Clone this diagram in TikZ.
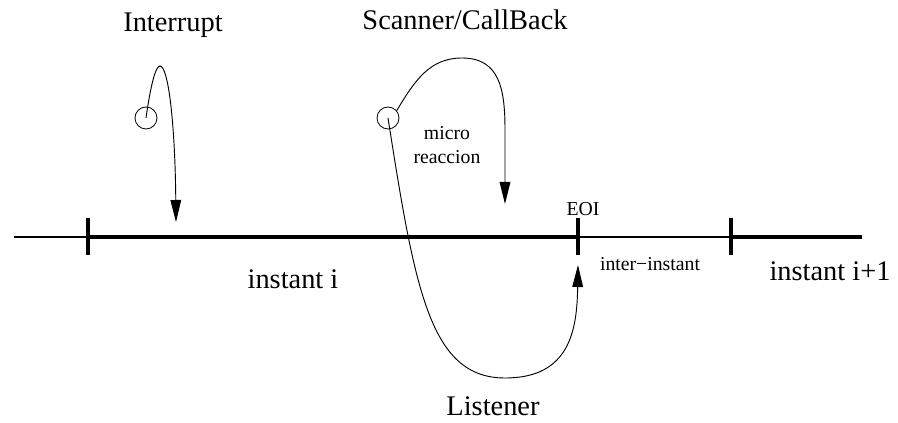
\documentclass[tikz,border=0pt]{standalone}
\usepackage{fontspec}
\setmainfont{Liberation Serif}
\usetikzlibrary{arrows.meta}
\begin{document}
\begin{tikzpicture}[x=0.75pt,y=-0.75pt,
  big/.style={font=\fontsize{21.3pt}{25pt}\selectfont, inner sep=0pt},
  small/.style={font=\fontsize{14.8pt}{17.5pt}\selectfont, inner sep=0pt, align=center},
  thinline/.style={line width=0.8pt},
  thickline/.style={line width=2.4pt},
  tick/.style={line width=3.6pt},
  event/.style={circle, draw, line width=0.6pt, minimum size=16.5pt, inner sep=0pt},
  flow/.style={line width=0.7pt, -{Triangle[length=16.5pt,width=8pt]}}
]
\useasboundingbox (0,0) rectangle (898,423);
% timeline
\coordinate (L0) at (14,237);
\coordinate (T1) at (88,237);
\coordinate (T2) at (578,237);
\coordinate (T3) at (731,237);
\coordinate (L1) at (862,237);
\draw[thinline] (L0) -- (T1);
\draw[thickline] (T1) -- (T2);
\draw[thinline] (T2) -- (T3);
\draw[thickline] (T3) -- (L1);
\draw[tick] (88,218) -- (88,255);
\draw[tick] (578,218) -- (578,255);
\draw[tick] (731,218) -- (731,255);
% labels
\node[big] (int) at (173,25) {Interrupt};
\node[big] (scan) at (465,20) {Scanner/CallBack};
\node[small] (micro) at (447,145) {micro\\reaccion};
\node[small] (eoi) at (583,209) {EOI};
\node[big] (ii) at (293,279) {instant i};
\node[small] (inter) at (650,264) {inter−instant};
\node[big] (ii1) at (830,271) {instant i+1};
\node[big] (list) at (493,406) {Listener};
% events
\node[event] (c1) at (146,118) {};
\node[event] (c2) at (388,118) {};
\coordinate (a1) at (176,222);
\coordinate (a2) at (505,204);
\coordinate (a3) at (578,265);
\draw[flow] (c1.center) .. controls (150,90) and (155,66) .. (160,66) .. controls (168,66) and (175,120) .. (a1);
\draw[flow] (c2.40) .. controls (415,80) and (430,58) .. (462,58) .. controls (500,58) and (505,90) .. (505,130) -- (a2);
\draw[flow] (c2.center) .. controls (415,290) and (430,378) .. (505,378) .. controls (570,378) and (577,330) .. (a3);
\end{tikzpicture}
\end{document}
